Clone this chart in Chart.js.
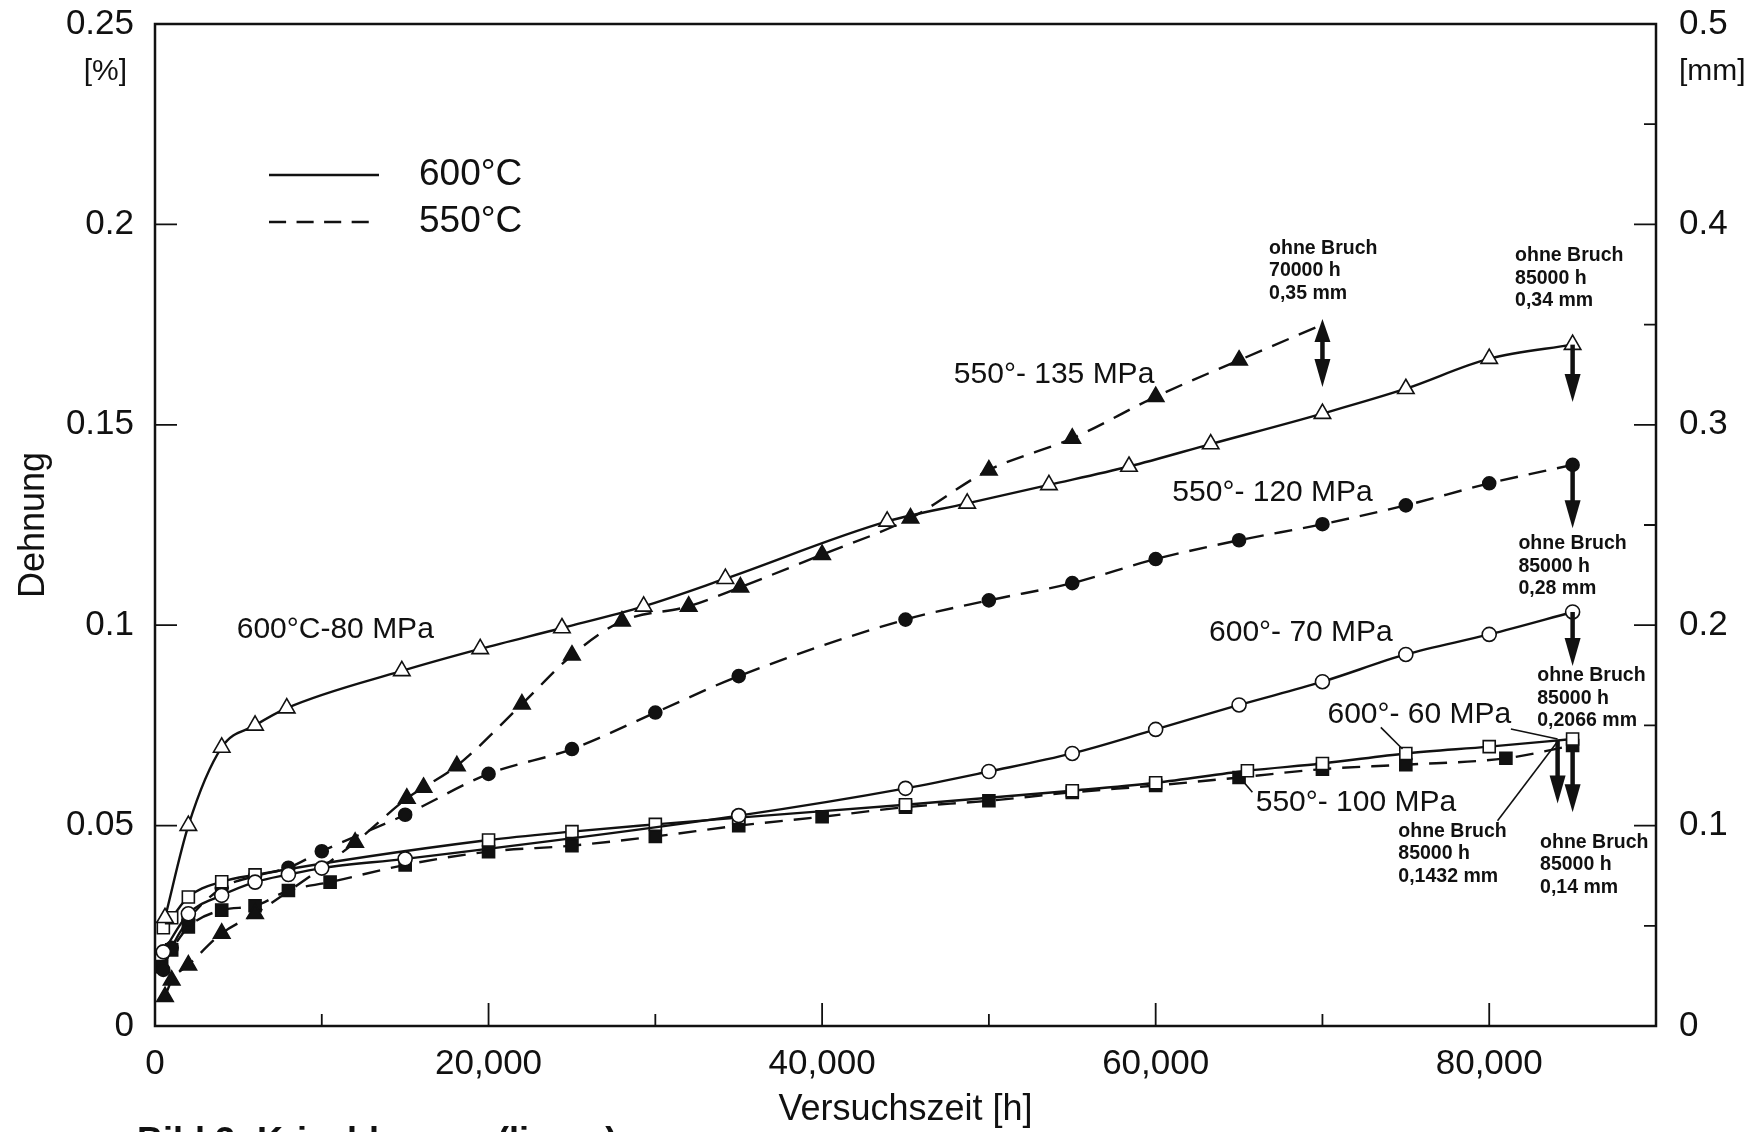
<!DOCTYPE html>
<html>
<head>
<meta charset="utf-8">
<script src="https://cdn.jsdelivr.net/npm/chart.js@4.4.1/dist/chart.umd.min.js"></script>
<style>
  html, body { margin: 0; padding: 0; background: #fff; }
  canvas { display: block; }
</style>
</head>
<body>
<canvas id="creep" width="1755" height="1132"></canvas>
<script>
// ─── Creep curves: time [h] vs. strain [%] ────────────
// 600°C - 80 MPa (open triangles)
const t80 = [600, 2000, 4000, 6000, 7900, 14800, 19500, 24400, 29300, 34200, 43900, 48700, 53600, 58400, 63300, 70000, 75000, 80000, 85000]
const e80 = [0.027, 0.050, 0.0695, 0.075, 0.0793, 0.0886, 0.0941, 0.0993, 0.1047, 0.1116, 0.1259, 0.1304, 0.135, 0.1396, 0.1452, 0.1528, 0.159, 0.1665, 0.17]

// 600°C - 70 MPa (open circles)
const t70 = [500, 2000, 4000, 6000, 8000, 10000, 15000, 35000, 45000, 50000, 55000, 60000, 65000, 70000, 75000, 80000, 85000]
const e70 = [0.0185, 0.028, 0.0326, 0.0359, 0.0378, 0.0394, 0.0417, 0.0525, 0.0593, 0.0635, 0.068, 0.074, 0.0801, 0.0859, 0.0927, 0.0977, 0.1033]

// 600°C - 60 MPa (open squares)
const t60 = [500, 1000, 2000, 4000, 6000, 20000, 25000, 30000, 35000, 45000, 55000, 60000, 65500, 70000, 75000, 80000, 85000]
const e60 = [0.0245, 0.027, 0.0322, 0.036, 0.0377, 0.0464, 0.0485, 0.0503, 0.052, 0.0552, 0.0587, 0.0607, 0.0637, 0.0655, 0.068, 0.0697, 0.0716]

// 550°C - 135 MPa (filled triangles)
const t135 = [600, 1000, 2000, 4000, 6000, 12000, 15100, 16100, 18100, 22000, 25000, 28000, 32000, 35100, 40000, 45300, 50000, 55000, 60000, 65000, 70000]
const e135 = [0.0073, 0.0114, 0.0152, 0.0231, 0.028, 0.0458, 0.0568, 0.0595, 0.0649, 0.0803, 0.0925, 0.101, 0.1047, 0.1095, 0.1176, 0.1267, 0.1387, 0.1466, 0.157, 0.1661, 0.175]

// 550°C - 120 MPa (filled circles)
const t120 = [500, 1000, 2000, 4000, 6000, 8000, 10000, 15000, 20000, 25000, 30000, 35000, 45000, 50000, 55000, 60000, 65000, 70000, 75000, 80000, 85000]
const e120 = [0.014, 0.0195, 0.0265, 0.0344, 0.0374, 0.0395, 0.0436, 0.0527, 0.0629, 0.0691, 0.0782, 0.0873, 0.1014, 0.1062, 0.1105, 0.1165, 0.1212, 0.1252, 0.1299, 0.1354, 0.14]

// 550°C - 100 MPa (filled squares)
const t100 = [400, 1000, 2000, 4000, 6000, 8000, 10500, 15000, 20000, 25000, 30000, 35000, 40000, 45000, 50000, 55000, 60000, 65000, 70000, 75000, 81000, 85000]
const e100 = [0.0148, 0.019, 0.0247, 0.0289, 0.030, 0.0338, 0.0359, 0.0402, 0.0435, 0.045, 0.0473, 0.050, 0.0522, 0.0546, 0.0562, 0.0583, 0.060, 0.062, 0.0641, 0.0652, 0.0668, 0.070]

// ─── Axes ─────────────────────────────────────────────
const xTicks       = [0, 20000, 40000, 60000, 80000]
const xTickLabels  = ['0', '20,000', '40,000', '60,000', '80,000']
const xMinorTicks  = [10000, 30000, 50000, 70000]
const yTicks       = [0, 0.05, 0.1, 0.15, 0.2, 0.25]
const yTickLabels  = ['0', '0.05', '0.1', '0.15', '0.2', '0.25']
const mmTicks      = [0, 0.1, 0.2, 0.3, 0.4, 0.5]
const mmTickLabels = ['0', '0.1', '0.2', '0.3', '0.4', '0.5']
const mmMinorTicks = [0.05, 0.15, 0.25, 0.35, 0.45]

const legendItems = ['600°C', '550°C']

// ─── Annotations (in data units) ──────────────────────
const curveLabels = [
  { text: '600°C-80 MPa',  t: 4900,  e: 0.0988 },
  { text: '550°- 135 MPa', t: 47900, e: 0.1624 },
  { text: '550°- 120 MPa', t: 61000, e: 0.1330 },
  { text: '600°- 70 MPa',  t: 63200, e: 0.0980 },
  { text: '600°- 60 MPa',  t: 70300, e: 0.0776 },
  { text: '550°- 100 MPa', t: 66000, e: 0.0557 }
]

const notes = [
  { lines: ['ohne Bruch', '70000 h', '0,35 mm'],   t: 66800, e: 0.1940 },
  { lines: ['ohne Bruch', '85000 h', '0,34 mm'],   t: 81550, e: 0.1922 },
  { lines: ['ohne Bruch', '85000 h', '0,28 mm'],   t: 81750, e: 0.1203 },
  { lines: ['ohne Bruch', '85000 h', '0,2066 mm'], t: 82880, e: 0.0873 },
  { lines: ['ohne Bruch', '85000 h', '0,1432 mm'], t: 74550, e: 0.0486 },
  { lines: ['ohne Bruch', '85000 h', '0,14 mm'],   t: 83050, e: 0.0458 }
]

const arrows = [
  { t: 70000, from: 0.1764, to: 0.1594, both: true },
  { t: 85000, from: 0.170,  to: 0.1557 },
  { t: 85000, from: 0.140,  to: 0.1242 },
  { t: 85000, from: 0.1033, to: 0.0898 },
  { t: 84100, from: 0.0712, to: 0.0555 },
  { t: 85000, from: 0.070,  to: 0.0533 }
]

const leaders = [
  [73500, 0.0745, 74800, 0.0691],
  [65050, 0.0620, 65800, 0.0583],
  [81300, 0.0741, 84100, 0.0716],
  [80500, 0.0512, 84100, 0.0710]
]

// ─── Styling ──────────────────────────────────────────
const FONT  = '"Liberation Sans", Arial, Helvetica, sans-serif'
const DASH  = [18, 11]
const INK   = '#111'

Chart.defaults.font.family = FONT
Chart.defaults.color = INK

const series = (ts, es) => ts.map((t, i) => ({ x: t, y: es[i] }))

function curve(label, ts, es, style, filled, dashed, radius) {
  return {
    label,
    data: series(ts, es),
    borderColor: INK,
    borderWidth: 2.4,
    borderDash: dashed ? DASH : [],
    pointStyle: style,
    pointRadius: radius,
    pointBackgroundColor: filled ? INK : '#fff',
    pointBorderColor: INK,
    pointBorderWidth: 1.6,
    cubicInterpolationMode: 'monotone',
    fill: false
  }
}

const s135 = curve('550°C - 135 MPa', t135, e135, 'triangle', true, true, 9.5)
s135.pointRadius = c => c.dataIndex === t135.length - 1 ? 0 : 9.5

const datasets = [
  curve('600°C - 80 MPa', t80, e80, 'triangle', false, false, 9.5),
  curve('600°C - 70 MPa', t70, e70, 'circle', false, false, 7),
  curve('600°C - 60 MPa', t60, e60, 'rect', false, false, 8.5),
  s135,
  curve('550°C - 120 MPa', t120, e120, 'circle', true, true, 6.5),
  curve('550°C - 100 MPa', t100, e100, 'rect', true, true, 8.5)
]

// ─── Overlay: frame, inward ticks, labels, arrows ─────
function drawArrow(ctx, px, y1, y2, both) {
  const head = 28, half = 8
  const dir = Math.sign(y2 - y1)
  ctx.lineWidth = 4.5
  ctx.beginPath()
  ctx.moveTo(px, both ? y1 + dir * (head - 6) : y1)
  ctx.lineTo(px, y2 - dir * (head - 4))
  ctx.stroke()
  const tip = (ty, d, len) => {
    ctx.beginPath()
    ctx.moveTo(px, ty)
    ctx.lineTo(px - half, ty - d * len)
    ctx.lineTo(px + half, ty - d * len)
    ctx.closePath()
    ctx.fill()
  }
  tip(y2, dir, head)
  if (both) tip(y1, -dir, head - 5)
}

const overlay = {
  id: 'overlay',
  afterDraw(chart) {
    const { ctx, chartArea: a, scales: { x, y, y1 } } = chart
    ctx.save()
    ctx.strokeStyle = INK
    ctx.fillStyle = INK

    // frame
    ctx.lineWidth = 2.5
    ctx.strokeRect(a.left, a.top, a.right - a.left, a.bottom - a.top)

    // inward ticks
    ctx.lineWidth = 1.8
    ctx.beginPath()
    yTicks.slice(1, -1).forEach(v => {
      const py = y.getPixelForValue(v)
      ctx.moveTo(a.left, py); ctx.lineTo(a.left + 22, py)
    })
    mmTicks.slice(1, -1).forEach(v => {
      const py = y1.getPixelForValue(v)
      ctx.moveTo(a.right, py); ctx.lineTo(a.right - 22, py)
    })
    mmMinorTicks.forEach(v => {
      const py = y1.getPixelForValue(v)
      ctx.moveTo(a.right, py); ctx.lineTo(a.right - 12, py)
    })
    xTicks.slice(1).forEach(v => {
      const px = x.getPixelForValue(v)
      ctx.moveTo(px, a.bottom); ctx.lineTo(px, a.bottom - 23)
    })
    xMinorTicks.forEach(v => {
      const px = x.getPixelForValue(v)
      ctx.moveTo(px, a.bottom); ctx.lineTo(px, a.bottom - 12)
    })
    ctx.stroke()

    // axis units
    ctx.font = `30px ${FONT}`
    ctx.textBaseline = 'middle'
    ctx.textAlign = 'right'
    ctx.fillText('[%]', a.left - 28, a.top + 48)
    ctx.textAlign = 'left'
    ctx.fillText('[mm]', a.right + 23, a.top + 48)

    // legend
    const lx = a.left + 114, lw = 110
    const ly = [a.top + 151, a.top + 198]
    ctx.lineWidth = 2.4
    legendItems.forEach((txt, i) => {
      ctx.setLineDash(i ? DASH.map(d => d * 0.95) : [])
      ctx.beginPath(); ctx.moveTo(lx, ly[i]); ctx.lineTo(lx + lw, ly[i]); ctx.stroke()
      ctx.setLineDash([])
      ctx.font = `37px ${FONT}`
      ctx.fillText(txt, a.left + 264, ly[i])
    })

    // leader lines
    ctx.lineWidth = 1.6
    leaders.forEach(([ta, ea, tb, eb]) => {
      ctx.beginPath()
      ctx.moveTo(x.getPixelForValue(ta), y.getPixelForValue(ea))
      ctx.lineTo(x.getPixelForValue(tb), y.getPixelForValue(eb))
      ctx.stroke()
    })

    // "ohne Bruch" arrows
    arrows.forEach(r => drawArrow(ctx, x.getPixelForValue(r.t), y.getPixelForValue(r.from), y.getPixelForValue(r.to), r.both))

    // curve labels
    ctx.font = `30px ${FONT}`
    curveLabels.forEach(l => ctx.fillText(l.text, x.getPixelForValue(l.t), y.getPixelForValue(l.e)))

    // end-of-test notes
    ctx.font = `bold 19.5px ${FONT}`
    notes.forEach(n => {
      const px = x.getPixelForValue(n.t), py = y.getPixelForValue(n.e)
      n.lines.forEach((s, i) => ctx.fillText(s, px, py + i * 22.5))
    })

    // figure caption
    ctx.font = `bold 36px ${FONT}`
    ctx.textBaseline = 'alphabetic'
    ctx.fillText('Bild 3: Kriechkurven (linear)', 137, 1153)

    ctx.restore()
  }
}

// ─── Chart ────────────────────────────────────────────
const tickFont = { size: 35 }
const noGrid = { display: false, drawTicks: false }
const fixSize = (w, h) => s => {
  if (w !== null) s.width = w
  if (h !== null) s.height = h
  s.paddingTop = 0; s.paddingBottom = 0; s.paddingLeft = 0; s.paddingRight = 0
}

new Chart(document.getElementById('creep'), {
  type: 'line',
  data: { datasets },
  options: {
    responsive: false,
    animation: false,
    layout: { padding: { top: 24, right: 0, bottom: 0, left: 0 } },
    plugins: { legend: { display: false }, tooltip: { enabled: false } },
    scales: {
      x: {
        type: 'linear', position: 'bottom', min: 0, max: 90000,
        grid: noGrid, border: { display: false },
        afterBuildTicks: s => { s.ticks = xTicks.map(v => ({ value: v })) },
        ticks: { font: tickFont, padding: 17, maxRotation: 0, autoSkip: false, callback: (v, i) => xTickLabels[i] },
        title: { display: true, text: 'Versuchszeit [h]', font: { size: 36 }, padding: { top: 0, bottom: 0 } },
        afterFit: fixSize(null, 106)
      },
      y: {
        type: 'linear', position: 'left', min: 0, max: 0.25,
        grid: noGrid, border: { display: false },
        afterBuildTicks: s => { s.ticks = yTicks.map(v => ({ value: v })) },
        ticks: { font: tickFont, padding: 21, autoSkip: false, callback: (v, i) => yTickLabels[i] },
        title: { display: true, text: 'Dehnung', font: { size: 36 }, padding: { top: 12, bottom: 0 } },
        afterFit: fixSize(155, null)
      },
      y1: {
        type: 'linear', position: 'right', min: 0, max: 0.5,
        grid: noGrid, border: { display: false },
        afterBuildTicks: s => { s.ticks = mmTicks.map(v => ({ value: v })) },
        ticks: { font: tickFont, padding: 23, autoSkip: false, callback: (v, i) => mmTickLabels[i] },
        afterFit: fixSize(99, null)
      }
    }
  },
  plugins: [overlay]
})
</script>
</body>
</html>
